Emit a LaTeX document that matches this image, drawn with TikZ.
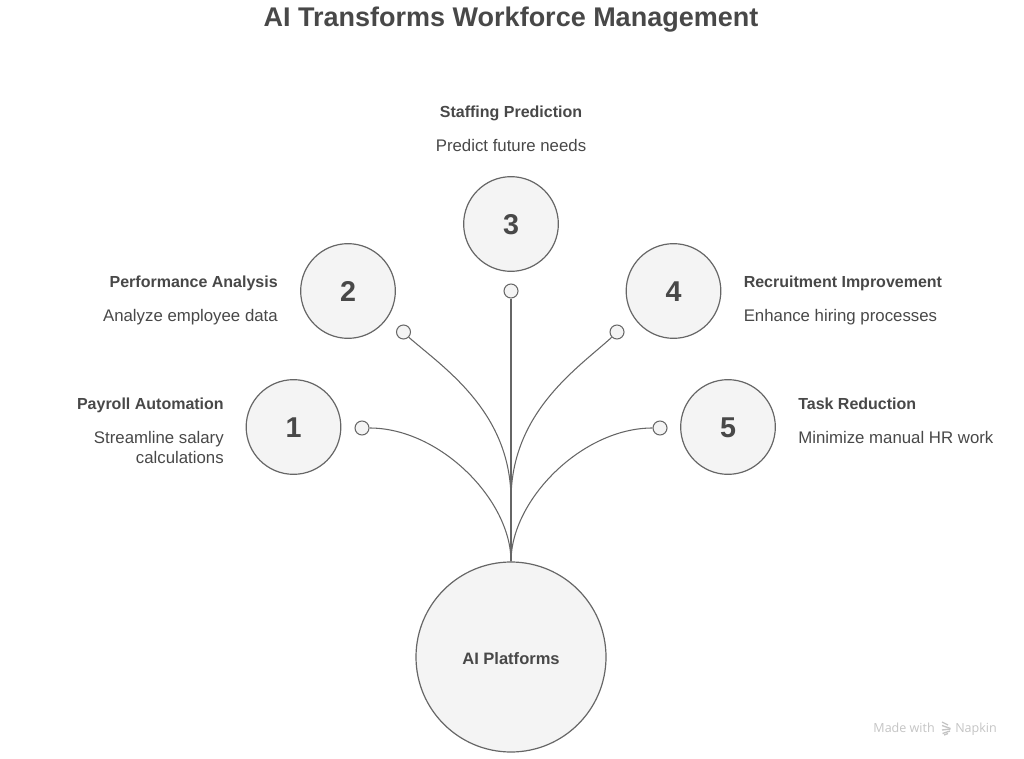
\documentclass[tikz,border=0pt]{standalone}
\usepackage{fontspec}
\setmainfont{Liberation Sans}
\newfontfamily\markfont{Open Sans}
\definecolor{ink}{HTML}{484848}
\definecolor{edge}{HTML}{666666}
\definecolor{fillc}{HTML}{F4F4F4}
\definecolor{faint}{HTML}{C4C4C4}
\newcommand{\lowered}[2]{\raisebox{-#1}[\height][\depth]{#2}}
\tikzset{
  big/.style={circle,draw=edge,fill=fillc,line width=0.9pt,minimum size=71pt,inner sep=0pt,text=ink,font=\bfseries\fontsize{21.5}{24}\selectfont},
  hub/.style={circle,draw=edge,fill=fillc,line width=0.9pt,minimum size=142.5pt,inner sep=0pt,text=ink,font=\bfseries\fontsize{12.4}{15}\selectfont},
  dot/.style={circle,draw=edge,fill=fillc,line width=0.8pt,minimum size=10.5pt,inner sep=0pt},
  conn/.style={draw=edge,line width=0.8pt},
  head/.style={text=ink,inner sep=0pt,font=\bfseries\fontsize{12}{15}\selectfont},
  body/.style={text=ink,inner sep=0pt,font=\fontsize{12.6}{15.6}\selectfont},
  markt/.style={text=faint,inner sep=0pt,font=\markfont\fontsize{9.4}{11}\selectfont},
  markb/.style={draw=faint,line width=1pt},
}
\begin{document}
\begin{tikzpicture}[x=0.75pt,y=-0.75pt]
\useasboundingbox (0,0) rectangle (1024,759);
\node[text=ink,inner sep=0pt,anchor=base,font=\bfseries\fontsize{20.25}{24}\selectfont] (title) at (511,27) {AI Transforms Workforce Management};
\coordinate (join) at (511,500);
\node[hub] (ai) at (511,657) {\lowered{1.5pt}{AI Platforms}};
\node[big] (n1) at (293.5,427) {\lowered{0.6pt}{1}};
\node[big] (n2) at (348,291) {\lowered{0.6pt}{2}};
\node[big] (n3) at (511,224) {\lowered{0.6pt}{3}};
\node[big] (n4) at (673.5,291) {\lowered{0.6pt}{4}};
\node[big] (n5) at (728,427) {\lowered{0.6pt}{5}};
\node[dot] (d1) at (362,428) {};
\node[dot] (d2) at (403.5,332) {};
\node[dot] (d3) at (511,291) {};
\node[dot] (d4) at (617,332) {};
\node[dot] (d5) at (660,428) {};
\draw[conn] (d1.east) .. controls (440,428) and (511,500) .. (ai.north);
\draw[conn] (d5.west) .. controls (582,428) and (511,500) .. (ai.north);
\draw[conn] (d3.south) -- (ai.north);
\draw[conn] (d2.south east) .. controls (444,368) and (511,412) .. (join);
\draw[conn] (d4.south west) .. controls (578,368) and (511,412) .. (join);
\node[head,anchor=base east] (h1) at (224,409) {Payroll Automation};
\node[body,anchor=base east] (b1) at (224,443) {Streamline salary};
\node[body,anchor=base east] (b1b) at (224,463) {calculations};
\node[head,anchor=base east] (h2) at (278,287) {Performance Analysis};
\node[body,anchor=base east] (b2) at (278,321) {Analyze employee data};
\node[head,anchor=base] (h3) at (511,118) {Staffing Prediction};
\node[body,anchor=base] (b3) at (511,152) {Predict future needs};
\node[head,anchor=base west] (h4) at (743.5,287) {Recruitment Improvement};
\node[body,anchor=base west] (b4) at (743.5,321) {Enhance hiring processes};
\node[head,anchor=base west] (h5) at (798,409) {Task Reduction};
\node[body,anchor=base west] (b5) at (798,443) {Minimize manual HR work};
\node[markt,anchor=base east] (m1) at (935,732) {Made with};
\node[markt,anchor=base west] (m2) at (955,732) {Napkin};
\draw[markb] (942,722) -- (948,725);
\draw[markb] (942,725.5) -- (950.5,728.5);
\draw[markb] (950.5,729) -- (942,730);
\draw[markb] (950,731) -- (942.5,733.5);
\draw[markb] (948,733.5) -- (944,735);
\end{tikzpicture}
\end{document}
